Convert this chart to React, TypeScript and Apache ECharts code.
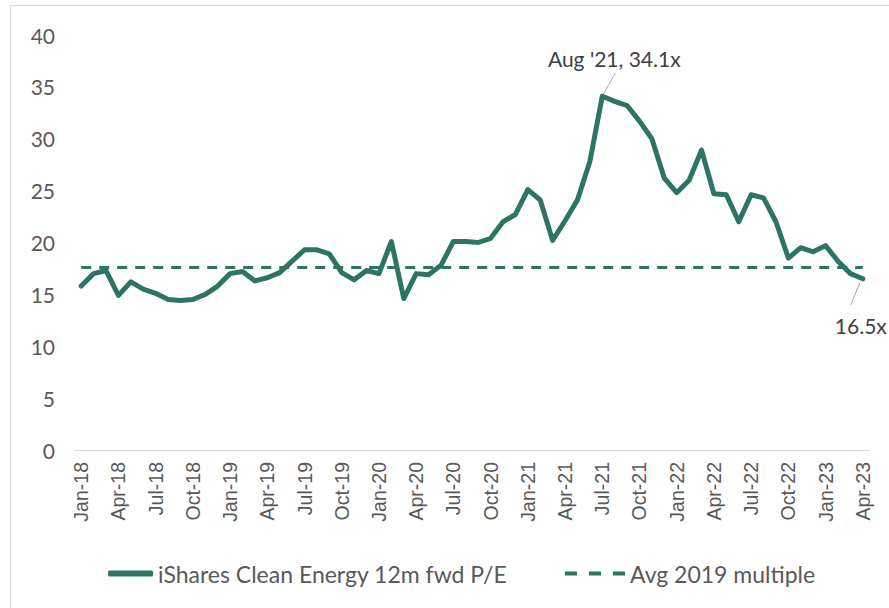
import React, { useEffect, useRef } from "react";
import * as echarts from "echarts";

const categories = [
  "Jan-18","Feb-18","Mar-18","Apr-18","May-18","Jun-18","Jul-18","Aug-18","Sep-18","Oct-18","Nov-18","Dec-18",
  "Jan-19","Feb-19","Mar-19","Apr-19","May-19","Jun-19","Jul-19","Aug-19","Sep-19","Oct-19","Nov-19","Dec-19",
  "Jan-20","Feb-20","Mar-20","Apr-20","May-20","Jun-20","Jul-20","Aug-20","Sep-20","Oct-20","Nov-20","Dec-20",
  "Jan-21","Feb-21","Mar-21","Apr-21","May-21","Jun-21","Jul-21","Aug-21","Sep-21","Oct-21","Nov-21","Dec-21",
  "Jan-22","Feb-22","Mar-22","Apr-22","May-22","Jun-22","Jul-22","Aug-22","Sep-22","Oct-22","Nov-22","Dec-22",
  "Jan-23","Feb-23","Mar-23","Apr-23",
];

const peValues = [
  15.8, 17.0, 17.3, 14.9, 16.2, 15.5, 15.1, 14.5, 14.4, 14.5, 15.0, 15.8,
  17.0, 17.2, 16.3, 16.6, 17.1, 18.2, 19.3, 19.3, 18.9, 17.1, 16.4, 17.3,
  17.0, 20.1, 14.6, 17.0, 16.9, 17.8, 20.1, 20.1, 20.0, 20.4, 22.0, 22.7,
  25.1, 24.1, 20.2, 22.1, 24.1, 27.8, 34.1, 33.6, 33.2, 31.7, 30.0, 26.2,
  24.8, 26.0, 28.9, 24.7, 24.6, 22.0, 24.6, 24.3, 22.0, 18.5, 19.5, 19.1,
  19.7, 18.2, 17.0, 16.5,
];

const avg2019 = 17.6;
const avgValues = categories.map(() => avg2019);

const seriesNames = ["iShares Clean Energy 12m fwd P/E", "Avg 2019 multiple"];
const peakIndex = 42;
const peakLabel = "Aug '21, 34.1x";
const lastIndex = 63;
const lastLabel = "16.5x";

const GREEN = "#2e7464";
const CAL = "Lato, 'Open Sans', sans-serif";

export default function App() {
  const ref = useRef<HTMLDivElement>(null);
  useEffect(() => {
    document.body.style.margin = "0";
    const chart = echarts.init(ref.current!, undefined, { renderer: "svg" });
    const legendText = { color: "#595959", fontSize: 23, fontFamily: CAL };
    chart.setOption({
      animation: false,
      backgroundColor: "#ffffff",
      grid: { left: 75, right: 20, top: 35, bottom: 158 },
      xAxis: {
        type: "category",
        data: categories,
        boundaryGap: true,
        axisLine: { lineStyle: { color: "#d9d9d9", width: 1 } },
        axisTick: { interval: 2, length: 6, lineStyle: { color: "#d9d9d9" } },
        axisLabel: {
          interval: 2,
          rotate: 90,
          margin: 12,
          color: "#595959",
          fontSize: 19.5,
          fontFamily: "'Liberation Sans', Arial, sans-serif",
        },
        splitLine: { show: false },
      },
      yAxis: {
        type: "value",
        min: 0,
        max: 40,
        interval: 5,
        axisLine: { show: false },
        axisTick: { show: false },
        splitLine: { show: false },
        axisLabel: { color: "#595959", fontSize: 21, fontFamily: CAL, margin: 20 },
      },
      legend: [
        {
          left: 103,
          top: 557,
          itemWidth: 45,
          itemHeight: 6,
          textStyle: legendText,
          data: [{ name: seriesNames[0], icon: "roundRect" }],
        },
        {
          left: 560,
          top: 557,
          itemWidth: 60,
          itemHeight: 4,
          textStyle: legendText,
          data: [
            {
              name: seriesNames[1],
              icon: "path://M0,0h12v4h-12z M24,0h12v4h-12z M48,0h12v4h-12z",
            },
          ],
        },
      ],
      series: [
        {
          name: seriesNames[0],
          type: "line",
          data: peValues,
          symbol: "none",
          lineStyle: { color: GREEN, width: 5, cap: "round", join: "round" },
          itemStyle: { color: GREEN },
          z: 3,
        },
        {
          name: seriesNames[1],
          type: "line",
          data: avgValues,
          symbol: "none",
          lineStyle: { color: GREEN, width: 3, type: [10, 8] },
          itemStyle: { color: GREEN },
          z: 2,
        },
      ],
    });

    const p = chart.convertToPixel({ xAxisIndex: 0, yAxisIndex: 0 }, [peakIndex, peValues[peakIndex]]) as number[];
    const q = chart.convertToPixel({ xAxisIndex: 0, yAxisIndex: 0 }, [lastIndex, peValues[lastIndex]]) as number[];
    chart.setOption({
      graphic: [
        {
          type: "rect",
          shape: { x: 10.5, y: 5.5, width: 1200, height: 1200 },
          style: { fill: "none", stroke: "#d9d9d9", lineWidth: 1 },
          silent: true,
        },
        {
          type: "line",
          shape: { x1: p[0] + 1, y1: p[1] - 2, x2: p[0] + 13, y2: p[1] - 23 },
          style: { stroke: "#a6a6a6", lineWidth: 1 },
        },
        {
          type: "text",
          x: p[0] + 12,
          y: p[1] - 38,
          style: {
            text: peakLabel,
            fill: "#404040",
            fontSize: 21,
            fontFamily: CAL,
            align: "center",
            verticalAlign: "middle",
          },
        },
        {
          type: "line",
          shape: { x1: q[0] - 3, y1: q[1] + 4, x2: q[0] - 12, y2: q[1] + 26 },
          style: { stroke: "#a6a6a6", lineWidth: 1 },
        },
        {
          type: "text",
          x: q[0] - 2,
          y: q[1] + 47,
          style: {
            text: lastLabel,
            fill: "#404040",
            fontSize: 21,
            fontFamily: CAL,
            align: "center",
            verticalAlign: "middle",
          },
        },
      ],
    });
    return () => chart.dispose();
  }, []);
  return <div ref={ref} style={{ width: 889, height: 608 }} />;
}
